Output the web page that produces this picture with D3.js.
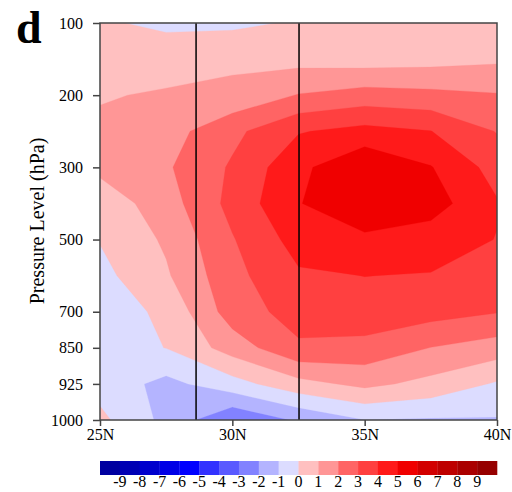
<!DOCTYPE html>
<html>
<head>
<meta charset="utf-8">
<script src="https://d3js.org/d3.v7.min.js"></script>
<style>
  body { margin: 0; background: #fff; }
  text { font-family: 'Liberation Serif', 'Times New Roman', serif; fill: #000; }
</style>
</head>
<body>
<svg id="chart" width="512" height="492"></svg>
<script>
// grid axes
var lats = [25, 27.5, 30, 32.5, 35, 37.5, 40];
var levels = [100, 150, 200, 250, 300, 400, 500, 600, 700, 850, 925, 1000];
var levelTicks = [100, 200, 300, 500, 700, 850, 925, 1000];
var latTicks = [25, 30, 35, 40];
var markLats = [28.63, 32.52];

// anomaly per level (top -> bottom), one value per latitude
var row100  = [0.15, -0.25, -0.2, 0.1, 0.35, 0.3, 0.3];
var row150  = [0.6, 0.71, 0.79, 0.65, 0.53, 0.64, 0.83];
var row200  = [0.95, 1.07, 1.26, 2.05, 2.42, 2.27, 2.07];
var row250  = [1.13, 1.58, 2.74, 3.93, 4.32, 4.02, 2.95];
var row300  = [1.25, 1.87, 3.13, 4.75, 5.9, 5.05, 3.6];
var row400  = [0.39, 1.54, 3.32, 4.95, 5.8, 5.45, 4.08];
var row500  = [0.05, 1.15, 2.93, 4.4, 4.8, 4.5, 3.97];
var row600  = [-0.3, 0.87, 2.7, 3.87, 4.01, 3.95, 3.5];
var row700  = [-0.5, 0.2, 2.5, 3.4, 3.66, 3.39, 3.05];
var row850  = [-0.5, 0.02, 1.45, 2.85, 2.67, 1.98, 1.54];
var row925  = [-0.4, -1.3, -0.4, 0.66, 1.25, 0.7, -0.12];
var row1000 = [0.25, -1.29, -2.9, -1.86, -1.02, -1.1, -1.08];

// contour levels and fill colours (first colour = below -9)
var levelsCn = [-9, -8, -7, -6, -5, -4, -3, -2, -1, 0, 1, 2, 3, 4, 5, 6, 7, 8, 9];
var fills = ["#0000a0", "#0000b4", "#0000cd", "#0000e6", "#0000ff", "#3232ff", "#5a5aff", "#8282ff", "#b4b4ff", "#dcdcff",
             "#ffc0c0", "#ff9696", "#ff6464", "#ff4040", "#ff1a1a", "#f00000", "#d20000", "#be0000", "#aa0000", "#960000"];

var rows = [row100, row150, row200, row250, row300, row400, row500, row600, row700, row850, row925, row1000];
var values = [].concat.apply([], rows);

var svg = d3.select("#chart");
var pL = 100, pR = 497, pT = 23, pB = 420;

var x = d3.scaleLinear().domain([25, 40]).range([pL, pR]);
var y = d3.scalePoint().domain(levels).range([pT, pB]);

// grid coords from d3.contours (cell centres at i+0.5)
var xg = d3.scaleLinear().domain([0.5, lats.length - 0.5]).range([x(lats[0]), x(lats[lats.length - 1])]);
var yg = d3.scaleLinear().domain([0.5, levels.length - 0.5]).range([y(levels[0]), y(levels[levels.length - 1])]);

var path = d3.geoPath(d3.geoTransform({
    point: function(px, py) { this.stream.point(xg(px), yg(py)); }
}));

svg.append("clipPath").attr("id", "plotclip")
    .append("rect").attr("x", pL).attr("y", pT)
    .attr("width", pR - pL).attr("height", pB - pT);

var cn = d3.contours().size([lats.length, levels.length])
    .thresholds([-100].concat(levelsCn))(values);

svg.append("g").attr("clip-path", "url(#plotclip)")
    .selectAll("path").data(cn).enter().append("path")
    .attr("d", path)
    .attr("fill", function(d, i) { return fills[i]; })
    .attr("stroke", function(d, i) { return fills[i]; })
    .attr("stroke-width", 0.3);

// vertical marker lines
svg.append("g").selectAll("line").data(markLats).enter().append("line")
    .attr("x1", function(d) { return x(d); }).attr("x2", function(d) { return x(d); })
    .attr("y1", pT).attr("y2", pB)
    .attr("stroke", "#000").attr("stroke-width", 1.5);

// frame
svg.append("rect").attr("x", pL).attr("y", pT)
    .attr("width", pR - pL).attr("height", pB - pT)
    .attr("fill", "none").attr("stroke", "#444").attr("stroke-width", 1.5);

// axes
var yAxis = svg.append("g").attr("transform", "translate(" + pL + ",0)")
    .call(d3.axisLeft(y).tickValues(levelTicks).tickSize(7).tickPadding(10));
var xAxis = svg.append("g").attr("transform", "translate(0," + pB + ")")
    .call(d3.axisBottom(x).tickValues(latTicks).tickFormat(function(d) { return d + "N"; })
        .tickSize(6).tickPadding(3));
[yAxis, xAxis].forEach(function(a) {
    a.select(".domain").remove();
    a.selectAll(".tick line").attr("stroke", "#444").attr("stroke-width", 1.5);
    a.selectAll(".tick text").style("font-family", "'Liberation Serif', serif").style("font-size", "16px").attr("fill", "#000");
});

svg.append("text")
    .attr("transform", "translate(44,221) rotate(-90)")
    .attr("text-anchor", "middle")
    .style("font-size", "20px")
    .text("Pressure Level (hPa)");

svg.append("text").attr("x", 16).attr("y", 43)
    .style("font-size", "46px").style("font-weight", "bold")
    .text("d");

// colour bar
var cb = d3.scaleLinear().domain([0, fills.length]).range([pL, pR]);
svg.append("g").selectAll("rect").data(fills).enter().append("rect")
    .attr("x", function(d, i) { return cb(i); })
    .attr("width", function(d, i) { return cb(i + 1) - cb(i) + 0.3; })
    .attr("y", 461).attr("height", 14)
    .attr("fill", function(d) { return d; });

svg.append("g").selectAll("text").data(levelsCn).enter().append("text")
    .attr("x", function(d, i) { return cb(i + 1); })
    .attr("y", 487)
    .attr("text-anchor", "middle")
    .style("font-size", "16px")
    .text(function(d) { return String(d); });
</script>
</body>
</html>
